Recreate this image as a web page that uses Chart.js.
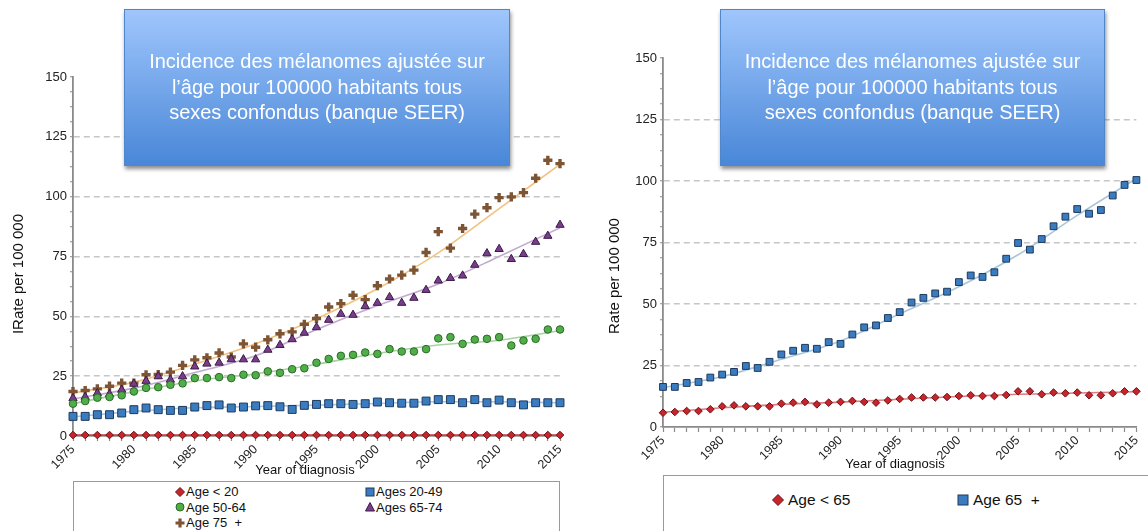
<!DOCTYPE html>
<html>
<head>
<meta charset="utf-8">
<script src="https://cdn.jsdelivr.net/npm/chart.js@4"></script>
<style>
  body { margin:0; width:1148px; height:531px; overflow:hidden; background:#fff; position:relative;
         font-family:"Liberation Sans", Arial, sans-serif; color:#111; }
  canvas { position:absolute; top:0; }
  .note { position:absolute; top:9px; height:157px; box-sizing:border-box; border:1px solid #4f86cc;
          background:linear-gradient(#9fc6fc, #4987d8); box-shadow:1px 3px 4px rgba(0,0,0,.45);
          color:#fff; font-size:20px; line-height:25.5px; text-align:center;
          display:flex; align-items:center; justify-content:center; }
  .legend { position:absolute; border:1.5px solid #9a9a9a; box-sizing:border-box; background:#fff; display:grid; }
  .legend span { display:flex; align-items:center; white-space:pre; }
  .legend svg { flex:none; }
</style>
</head>
<body>
<canvas id="left" width="580" height="480" style="left:0;width:580px;height:480px"></canvas>
<canvas id="right" width="558" height="475" style="left:590px;width:558px;height:475px"></canvas>

<div class="note" style="left:124px;width:386px">Incidence des mélanomes ajustée sur<br>l’âge pour 100000 habitants tous<br>sexes confondus (banque SEER)</div>
<div class="note" style="left:720px;width:385px">Incidence des mélanomes ajustée sur<br>l’âge pour 100000 habitants tous<br>sexes confondus (banque SEER)</div>

<div id="legLeft" class="legend" style="left:73px;top:481px;width:487px;height:60px;grid-template-columns:190px 190px;grid-auto-rows:15.5px;padding:2px 0 0 101px;font-size:13px"></div>
<div id="legRight" class="legend" style="left:663px;top:475px;width:500px;height:70px;grid-template-columns:185px 185px;grid-auto-rows:20px;padding:14px 0 0 108px;font-size:15.5px"></div>

<script>
// données
const years = [1975, 1976, 1977, 1978, 1979, 1980, 1981, 1982, 1983, 1984,
               1985, 1986, 1987, 1988, 1989, 1990, 1991, 1992, 1993, 1994,
               1995, 1996, 1997, 1998, 1999, 2000, 2001, 2002, 2003, 2004,
               2005, 2006, 2007, 2008, 2009, 2010, 2011, 2012, 2013, 2014, 2015];
const fitYears = [1975, 1980, 1985, 1990, 1995, 2000, 2005, 2010, 2015];
const xTickLabels = [1975, 1980, 1985, 1990, 1995, 2000, 2005, 2010, 2015];
const yTickLabels = [0, 25, 50, 75, 100, 125, 150];
const yGridLines = [25, 50, 75, 100, 125];

// graphique de gauche
const ageUnder20 = [0.4, 0.4, 0.4, 0.4, 0.4, 0.4, 0.4, 0.4, 0.4, 0.4,
                    0.4, 0.4, 0.4, 0.4, 0.4, 0.4, 0.4, 0.4, 0.4, 0.4,
                    0.4, 0.4, 0.4, 0.4, 0.4, 0.4, 0.4, 0.4, 0.4, 0.4,
                    0.4, 0.4, 0.4, 0.4, 0.4, 0.4, 0.4, 0.4, 0.4, 0.4, 0.4];
const ages20to49 = [8.2, 8.2, 8.9, 8.9, 9.6, 11.0, 11.7, 11.0, 10.7, 10.7,
                    12.1, 12.7, 13.0, 11.7, 12.1, 12.6, 12.7, 12.2, 11.1, 12.8,
                    13.2, 13.5, 13.5, 13.2, 13.5, 14.2, 13.9, 13.7, 13.7, 14.6,
                    15.2, 15.2, 13.9, 15.2, 13.9, 15.0, 13.9, 13.0, 13.9, 13.9, 13.9];
const ages50to64 = [13.5, 14.6, 16.0, 16.3, 17.0, 18.6, 20.1, 20.4, 21.4, 22.0,
                    24.2, 24.2, 24.6, 24.2, 25.6, 25.4, 27.0, 26.4, 27.9, 28.3,
                    30.6, 32.2, 33.5, 33.9, 34.9, 34.3, 36.3, 35.3, 35.3, 36.3,
                    40.8, 41.3, 38.5, 40.3, 40.6, 41.3, 37.8, 39.9, 40.6, 44.5, 44.5];
const ages65to74 = [15.8, 16.3, 17.9, 17.5, 19.3, 21.8, 23.0, 24.9, 23.5, 24.9,
                    29.0, 30.2, 30.6, 32.0, 32.0, 32.0, 36.0, 38.0, 40.4, 43.1,
                    45.4, 48.5, 51.0, 50.6, 54.2, 55.6, 58.0, 55.6, 57.7, 61.0,
                    64.9, 66.0, 67.0, 71.5, 76.3, 78.1, 73.9, 76.0, 81.1, 83.6, 88.2];
const age75plus = [18.6, 19.0, 19.7, 20.8, 22.1, 22.1, 25.6, 25.7, 26.7, 29.5,
                   31.8, 32.7, 34.7, 33.0, 38.5, 37.1, 40.2, 42.7, 43.5, 46.7,
                   49.1, 53.9, 55.3, 58.8, 57.0, 62.8, 65.6, 67.2, 69.3, 76.7,
                   85.4, 78.5, 86.7, 92.7, 95.4, 99.6, 99.9, 101.7, 107.7, 115.2, 113.8];
// courbes de tendance (lues tous les 5 ans)
const fitUnder20 = [0.4, 0.4, 0.4, 0.4, 0.4, 0.4, 0.4, 0.4, 0.4];
const fit20to49 = [8.0, 10.3, 11.8, 12.3, 12.9, 13.6, 14.3, 14.3, 13.9];
const fit50to64 = [13.5, 18.5, 23.0, 26.0, 30.0, 34.5, 38.0, 40.0, 44.0];
const fit65to74 = [15.5, 20.0, 26.5, 33.5, 44.5, 54.5, 63.5, 75.0, 87.0];
const fit75plus = [18.0, 22.5, 30.0, 38.5, 49.0, 61.5, 76.5, 95.0, 113.5];

// graphique de droite
const ageUnder65 = [5.8, 6.1, 6.5, 6.5, 7.2, 8.4, 8.8, 8.4, 8.4, 8.4,
                    9.5, 9.9, 10.2, 9.2, 9.9, 10.2, 10.6, 10.2, 9.9, 10.8,
                    11.4, 12.0, 12.0, 12.0, 12.2, 12.6, 12.9, 12.6, 12.6, 13.0,
                    14.5, 14.5, 13.3, 14.0, 13.7, 14.0, 12.9, 12.9, 13.7, 14.5, 14.5];
const age65plus = [16.3, 16.3, 17.9, 18.3, 20.1, 21.3, 22.4, 24.8, 24.0, 26.5,
                   29.5, 31.0, 32.2, 31.8, 34.5, 33.8, 37.6, 40.5, 41.3, 44.3,
                   46.7, 50.6, 52.5, 54.3, 55.0, 58.9, 61.6, 61.0, 62.9, 68.4,
                   74.8, 72.1, 76.4, 81.6, 85.5, 88.6, 86.7, 88.2, 94.1, 98.4, 100.4];
const fitUnder65 = [6.0, 7.8, 9.2, 10.1, 11.3, 12.4, 13.3, 13.8, 14.3];
const fit65plus = [16.0, 20.5, 27.5, 35.0, 46.0, 57.0, 70.0, 86.0, 101.0];

const FONT = '"Liberation Sans", Arial, sans-serif';
const AXIS = '#8a8a8a';

const pts = (xs, ys) => xs.map((x, i) => ({ x: x, y: ys[i] }));

// séries : nom, valeurs, tendance, style du point
const leftSeries = [
  { label: 'Age < 20',   data: ageUnder20, fit: fitUnder20, style: 'rectRot',  r: 3.8, fill: '#c8242c', stroke: '#6b1015', line: '#c8383e' },
  { label: 'Ages 20-49', data: ages20to49, fit: fit20to49, style: 'rect',     r: 5.6, fill: '#3b7cc0', stroke: '#1c3a5c', line: '#a9c8e0' },
  { label: 'Age 50-64',  data: ages50to64, fit: fit50to64, style: 'circle',   r: 3.8, fill: '#4fae47', stroke: '#2a6a27', line: '#a5d49e' },
  { label: 'Ages 65-74', data: ages65to74, fit: fit65to74, style: 'triangle', r: 4.8, fill: '#7a3d8c', stroke: '#3a1a45', line: '#c2a9d2' },
  { label: 'Age 75  +',  data: age75plus,  fit: fit75plus, style: 'cross',    r: 4.6, fill: '#7d5434', stroke: '#7d5434', line: '#f2c27f' }
];
const rightSeries = [
  { label: 'Age < 65',  data: ageUnder65, fit: fitUnder65, style: 'rectRot', r: 3.8, fill: '#c8242c', stroke: '#6b1015', line: '#dd7b80' },
  { label: 'Age 65  +', data: age65plus,  fit: fit65plus,  style: 'rect',    r: 4.8, fill: '#3b7cc0', stroke: '#1c3a5c', line: '#a9c6dc' }
];

// titres des axes dessinés dans le canvas
const axisTitles = {
  id: 'axisTitles',
  afterDraw(chart, args, opts) {
    const ctx = chart.ctx;
    ctx.save();
    ctx.fillStyle = '#111';
    ctx.textAlign = 'center';
    ctx.textBaseline = 'middle';
    ctx.font = '13px ' + FONT;
    ctx.fillText(opts.xText, opts.xPos[0], opts.xPos[1]);
    ctx.font = '15px ' + FONT;
    ctx.translate(opts.yPos[0], opts.yPos[1]);
    ctx.rotate(-Math.PI / 2);
    ctx.fillText(opts.yText, 0, 0);
    ctx.restore();
  }
};

function makeDatasets(series) {
  const sets = [];
  series.forEach(s => {
    sets.push({
      data: pts(fitYears, s.fit), borderColor: s.line, borderWidth: 1.6,
      pointRadius: 0, cubicInterpolationMode: 'monotone', order: 2, clip: false
    });
  });
  series.forEach(s => {
    sets.push({
      label: s.label, data: pts(years, s.data), showLine: false,
      pointStyle: s.style, pointRadius: s.r, pointBackgroundColor: s.fill,
      pointBorderColor: s.stroke, pointBorderWidth: s.style === 'cross' ? 3.4 : 1,
      order: 1, clip: false
    });
  });
  return sets;
}

function makeChart(id, series, o) {
  return new Chart(document.getElementById(id), {
    type: 'line',
    data: { datasets: makeDatasets(series) },
    plugins: [axisTitles],
    options: {
      responsive: false, animation: false, events: [],
      layout: { padding: { top: o.top, right: o.right, left: 0, bottom: 0 } },
      plugins: {
        legend: { display: false }, tooltip: { enabled: false },
        axisTitles: { xText: 'Year of diagnosis', xPos: o.xPos, yText: o.yTitle, yPos: o.yPos }
      },
      scales: {
        x: {
          type: 'linear', min: 1975, max: 2015,
          afterFit: s => { s.height = o.xHeight; },
          ticks: {
            stepSize: 1, maxTicksLimit: 100, autoSkip: false, minRotation: 45, maxRotation: 45,
            padding: 1, color: '#222', font: { size: 12.5, family: FONT },
            callback: v => xTickLabels.includes(v) ? String(v) : ''
          },
          grid: { drawOnChartArea: false, tickLength: 5, tickColor: AXIS, tickWidth: 1.2 },
          border: { color: AXIS, width: 1.8 }
        },
        y: {
          type: 'linear', min: 0, max: 150,
          afterFit: s => { s.width = 73; },
          ticks: {
            stepSize: 6.25, maxTicksLimit: 100, autoSkip: false, padding: 3,
            color: '#222', font: { size: 13, family: FONT },
            callback: v => yTickLabels.includes(v) ? String(v) : ''
          },
          grid: {
            color: c => yGridLines.includes(c.tick.value) ? '#c6c6c6' : 'rgba(0,0,0,0)',
            lineWidth: 1.5, tickLength: 3, tickColor: AXIS, tickWidth: 1.2
          },
          border: { color: AXIS, width: 1.8, dash: [6, 4] }
        }
      }
    }
  });
}

makeChart('left', leftSeries, {
  top: 77, right: 20, xHeight: 44, yTitle: 'IRate per 100 000', xPos: [305, 470], yPos: [19, 274]
});
makeChart('right', rightSeries, {
  top: 58, right: 4, xHeight: 48, yTitle: 'Rate per 100 000', xPos: [305, 464], yPos: [25, 276]
});

// légendes HTML avec les mêmes formes
function marker(s, size) {
  const h = size / 2, e = size;
  let shape;
  if (s.style === 'rectRot') shape = `<polygon points="${h},0.5 ${e-0.5},${h} ${h},${e-0.5} 0.5,${h}" fill="${s.fill}" stroke="${s.stroke}"/>`;
  else if (s.style === 'rect') shape = `<rect x="1" y="1" width="${e-2}" height="${e-2}" fill="${s.fill}" stroke="${s.stroke}"/>`;
  else if (s.style === 'circle') shape = `<circle cx="${h}" cy="${h}" r="${h-1}" fill="${s.fill}" stroke="${s.stroke}"/>`;
  else if (s.style === 'triangle') shape = `<polygon points="${h},0.5 ${e-0.5},${e-1} 0.5,${e-1}" fill="${s.fill}" stroke="${s.stroke}"/>`;
  else shape = `<path d="M${h} 0.5V${e-0.5}M0.5 ${h}H${e-0.5}" stroke="${s.fill}" stroke-width="3.2"/>`;
  return `<svg width="${e}" height="${e}">${shape}</svg>`;
}
function fillLegend(id, series, size, gap) {
  document.getElementById(id).innerHTML = series.map(s =>
    `<span>${marker(s, size)}<span style="margin-left:${gap}px">${s.label}</span></span>`).join('');
}
fillLegend('legLeft', leftSeries, 10, 1);
fillLegend('legRight', rightSeries, 12, 4);
</script>
</body>
</html>
